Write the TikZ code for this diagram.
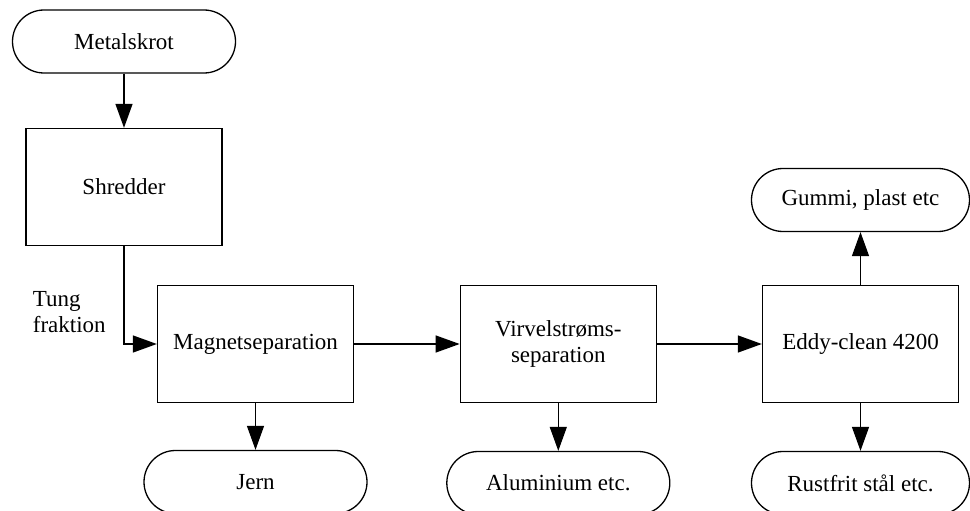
\documentclass[tikz,border=0pt]{standalone}
\usepackage{fontspec}
\setmainfont{Liberation Serif}
\usetikzlibrary{arrows.meta}
\begin{document}
\begin{tikzpicture}[x=1pt,y=-1pt,
  every node/.style={font=\fontsize{23}{26}\selectfont},
  procbox/.style={draw, line width=1.3pt, minimum width=196pt, minimum height=117pt, inner sep=0pt, align=center},
  term/.style={draw, line width=1.3pt, rounded corners=31.5pt, minimum height=63pt, minimum width=223pt, inner sep=0pt},
  arr/.style={line width=1.3pt, -{Triangle[length=24pt,width=17pt]}}]
\useasboundingbox (0,0) rectangle (970,511);
\clip (0,0) rectangle (970,511);
\node[term] (met) at (124,41.5) {Metalskrot};
\node[procbox] (shr) at (124,187) {Shredder};
\node[procbox] (mag) at (255.5,344) {Magnetseparation};
\node[procbox] (vir) at (558.3,344) {Virvelstrøms-\\separation};
\node[procbox] (edd) at (860.5,344) {Eddy-clean 4200};
\node[term] (jern) at (255.5,482) {Jern};
\node[term] (alu) at (558.3,483) {Aluminium etc.};
\node[term, minimum width=218pt] (rust) at (860.5,483) {Rustfrit stål etc.};
\node[term, minimum width=218pt] (gum) at (860.5,200) {Gummi, plast etc};
\node[anchor=west, align=left, inner sep=0pt] (tung) at (32.7,312) {Tung\\fraktion};
\draw[arr] (met) -- (shr);
\draw[arr] (shr.south) |- (mag.west);
\draw[arr] (mag) -- (vir);
\draw[arr] (vir) -- (edd);
\draw[arr] (mag) -- (jern);
\draw[arr] (vir) -- (alu);
\draw[arr] (edd) -- (rust);
\draw[arr] (edd) -- (gum);
\end{tikzpicture}
\end{document}
